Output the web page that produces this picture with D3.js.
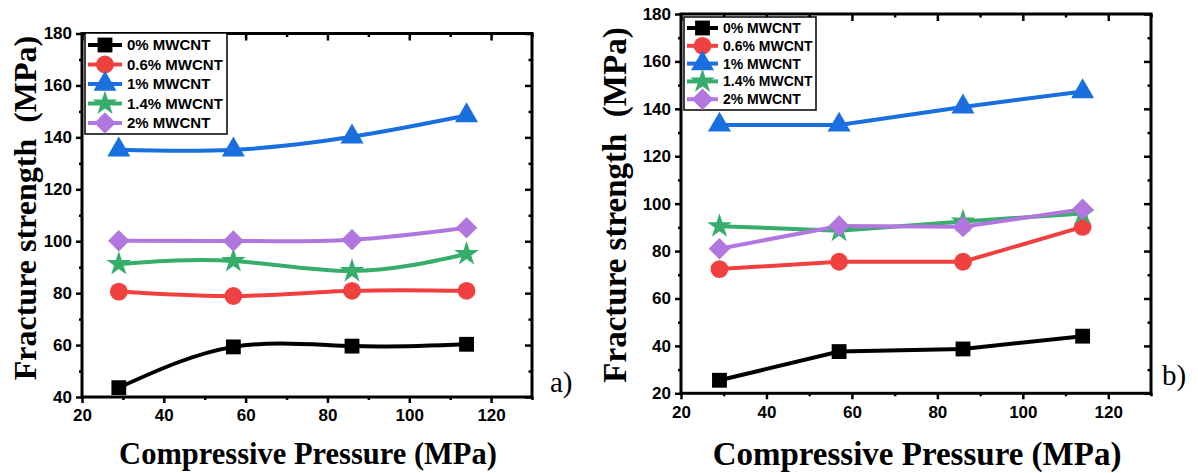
<!DOCTYPE html>
<html>
<head>
<meta charset="utf-8">
<script src="https://cdn.jsdelivr.net/npm/d3@7"></script>
<style>
    body { margin: 0; background: #fff; }
    svg { display: block; }
    .tick text { font-family: "Liberation Sans", Arial, sans-serif; font-weight: bold; }
    .axisTitle { font-family: "Liberation Serif", "Times New Roman", serif; font-weight: bold; }
    .legendText { font-family: "Liberation Sans", Arial, sans-serif; font-weight: bold; }
</style>
</head>
<body>
<script>
(function () {

    //compressive pressure values (x axis, MPa)
    var pressure = [29, 57, 86, 114];

    //series labels and colours (Origin default palette)
    var seriesNames = ["0% MWCNT", "0.6% MWCNT", "1% MWCNT", "1.4% MWCNT", "2% MWCNT"];
    var seriesColors = ["#000000", "#f14040", "#1a6fdf", "#37ad6b", "#b177de"];
    var seriesSymbols = ["square", "circle", "triangle", "star", "diamond"];

    //panel a) fracture strength (MPa)
    var a_mw0 = [43.6, 59.3, 59.6, 60.3];
    var a_mw06 = [80.6, 78.9, 80.9, 80.9];
    var a_mw1 = [135.2, 135.2, 140.2, 148.4];
    var a_mw14 = [91.2, 92.4, 88.5, 95.1];
    var a_mw2 = [100.2, 100.1, 100.6, 105.2];

    //panel b) fracture strength (MPa)
    var b_mw0 = [25.5, 37.6, 38.7, 44.1];
    var b_mw06 = [72.4, 75.5, 75.5, 90.2];
    var b_mw1 = [133.2, 133.2, 140.8, 147.3];
    var b_mw14 = [90.5, 88.6, 92.5, 95.8];
    var b_mw2 = [81.0, 90.6, 90.3, 97.6];

    //tick labels
    var xTicks = [20, 40, 60, 80, 100, 120];
    var yTicksA = [40, 60, 80, 100, 120, 140, 160, 180];
    var yTicksB = [20, 40, 60, 80, 100, 120, 140, 160, 180];

    var width = 1198,
        height = 473;

    var svg = d3.select("body")
        .append("svg")
        .attr("width", width)
        .attr("height", height);

    //panel a) - smoothed lines
    drawPanel({
        left: 82, right: 532, top: 33.5, bottom: 397,
        xDomain: [20, 130], yDomain: [40, 180], yTicks: yTicksA,
        series: [a_mw0, a_mw06, a_mw1, a_mw14, a_mw2],
        curve: d3.curveNatural,
        tickFont: 17, xPad: 6,
        yTitle: { x: 25, y: 208, size: 32 },
        xTitle: { x: 308, y: 464, size: 30.5 },
        legend: { x: 85, y: 33, w: 142, h: 101, row0: 45, rowGap: 19.5, lineX0: 88, lineX1: 122, textX: 127, font: 15 },
        tag: { text: "a)", x: 550, y: 392 }
    });

    //panel b) - straight lines
    drawPanel({
        left: 681, right: 1151, top: 14, bottom: 393.3,
        xDomain: [20, 130], yDomain: [20, 180], yTicks: yTicksB,
        series: [b_mw0, b_mw06, b_mw1, b_mw14, b_mw2],
        curve: d3.curveLinear,
        tickFont: 17, xPad: 7,
        yTitle: { x: 614, y: 205, size: 33 },
        xTitle: { x: 917, y: 465, size: 33 },
        legend: { x: 684, y: 17, w: 132, h: 93, row0: 28, rowGap: 17.8, lineX0: 687, lineX1: 718, textX: 723, font: 14 },
        tag: { text: "b)", x: 1162, y: 385 }
    });

    function drawPanel(p) {
        var x = d3.scaleLinear().domain(p.xDomain).range([p.left, p.right]);
        var y = d3.scaleLinear().domain(p.yDomain).range([p.bottom, p.top]);

        var g = svg.append("g");

        //minor tick values every 10
        var xMinor = d3.range(p.xDomain[0], p.xDomain[1] + 1, 10).filter(function (v) { return xTicks.indexOf(v) < 0; });
        var yMinor = d3.range(p.yDomain[0], p.yDomain[1] + 1, 10).filter(function (v) { return p.yTicks.indexOf(v) < 0; });

        //bottom axis with labels
        var bottom = g.append("g")
            .attr("transform", "translate(0," + p.bottom + ")")
            .call(d3.axisBottom(x).tickValues(xTicks).tickSizeOuter(0).tickSizeInner(6).tickPadding(p.xPad));
        bottom.append("g").call(d3.axisBottom(x).tickValues(xMinor).tickFormat("").tickSizeOuter(0).tickSizeInner(3));

        //left axis with labels
        var leftAx = g.append("g")
            .attr("transform", "translate(" + p.left + ",0)")
            .call(d3.axisLeft(y).tickValues(p.yTicks).tickSizeOuter(0).tickSizeInner(6).tickPadding(4));
        leftAx.append("g").call(d3.axisLeft(y).tickValues(yMinor).tickFormat("").tickSizeOuter(0).tickSizeInner(3));

        //mirrored top and right axes, ticks pointing inward
        var topAx = g.append("g")
            .attr("transform", "translate(0," + p.top + ")")
            .call(d3.axisTop(x).tickValues(xTicks).tickFormat("").tickSizeOuter(0).tickSizeInner(-7));
        topAx.append("g").call(d3.axisTop(x).tickValues(xMinor).tickFormat("").tickSizeOuter(0).tickSizeInner(-3.5));

        var rightAx = g.append("g")
            .attr("transform", "translate(" + p.right + ",0)")
            .call(d3.axisRight(y).tickValues(p.yTicks).tickFormat("").tickSizeOuter(0).tickSizeInner(-7));
        rightAx.append("g").call(d3.axisRight(y).tickValues(yMinor).tickFormat("").tickSizeOuter(0).tickSizeInner(-3.5));

        g.selectAll(".domain").remove();
        g.selectAll(".tick line").attr("stroke", "#000").attr("stroke-width", 2.5);
        g.selectAll(".tick text").attr("fill", "#000").style("font-size", p.tickFont + "px");

        //frame
        g.append("rect")
            .attr("x", p.left)
            .attr("y", p.top)
            .attr("width", p.right - p.left)
            .attr("height", p.bottom - p.top)
            .attr("fill", "none")
            .attr("stroke", "#000")
            .attr("stroke-width", 3);

        //lines
        var line = d3.line()
            .x(function (d, i) { return x(pressure[i]); })
            .y(function (d) { return y(d); })
            .curve(p.curve);

        p.series.forEach(function (vals, s) {
            g.append("path")
                .datum(vals)
                .attr("d", line)
                .attr("fill", "none")
                .attr("stroke", seriesColors[s])
                .attr("stroke-width", 4);
        });

        //markers drawn over all lines
        p.series.forEach(function (vals, s) {
            g.selectAll(".m" + s)
                .data(vals)
                .enter()
                .append("path")
                .attr("d", symbolPath(seriesSymbols[s]))
                .attr("transform", function (d, i) {
                    var t = "translate(" + x(pressure[i]) + "," + y(d) + ")";
                    return seriesSymbols[s] === "diamond" ? t + " rotate(45)" : t;
                })
                .attr("fill", seriesColors[s]);
        });

        //legend
        var L = p.legend;
        g.append("rect")
            .attr("x", L.x)
            .attr("y", L.y)
            .attr("width", L.w)
            .attr("height", L.h)
            .attr("fill", "#fff")
            .attr("stroke", "#000")
            .attr("stroke-width", 1.5);

        seriesNames.forEach(function (name, s) {
            var ry = L.row0 + s * L.rowGap;
            g.append("line")
                .attr("x1", L.lineX0)
                .attr("x2", L.lineX1)
                .attr("y1", ry)
                .attr("y2", ry)
                .attr("stroke", seriesColors[s])
                .attr("stroke-width", 4);
            g.append("path")
                .attr("d", symbolPath(seriesSymbols[s]))
                .attr("transform", "translate(" + ((L.lineX0 + L.lineX1) / 2) + "," + ry + ")" +
                    (seriesSymbols[s] === "diamond" ? " rotate(45)" : ""))
                .attr("fill", seriesColors[s]);
            g.append("text")
                .attr("class", "legendText")
                .attr("x", L.textX)
                .attr("y", ry)
                .attr("dy", "0.36em")
                .style("font-size", L.font + "px")
                .text(name);
        });

        //axis titles
        g.append("text")
            .attr("class", "axisTitle")
            .attr("transform", "translate(" + p.yTitle.x + "," + p.yTitle.y + ") rotate(-90)")
            .attr("text-anchor", "middle")
            .attr("dy", "0.35em")
            .style("font-size", p.yTitle.size + "px")
            .style("white-space", "pre")
            .text("Fracture strength  (MPa)");

        g.append("text")
            .attr("class", "axisTitle")
            .attr("x", p.xTitle.x)
            .attr("y", p.xTitle.y)
            .attr("text-anchor", "middle")
            .style("font-size", p.xTitle.size + "px")
            .text("Compressive Pressure (MPa)");

        //panel tag
        g.append("text")
            .attr("x", p.tag.x)
            .attr("y", p.tag.y)
            .style("font-family", "'Liberation Serif', 'Times New Roman', serif")
            .style("font-size", "29px")
            .text(p.tag.text);
    };

    //marker shapes
    function symbolPath(kind) {
        var types = {
            square: [d3.symbolSquare, 220],
            circle: [d3.symbolCircle, 250],
            triangle: [d3.symbolTriangle, 230],
            star: [d3.symbolStar, 190],
            diamond: [d3.symbolSquare, 230]
        };
        return d3.symbol().type(types[kind][0]).size(types[kind][1])();
    };
})();
</script>
</body>
</html>
